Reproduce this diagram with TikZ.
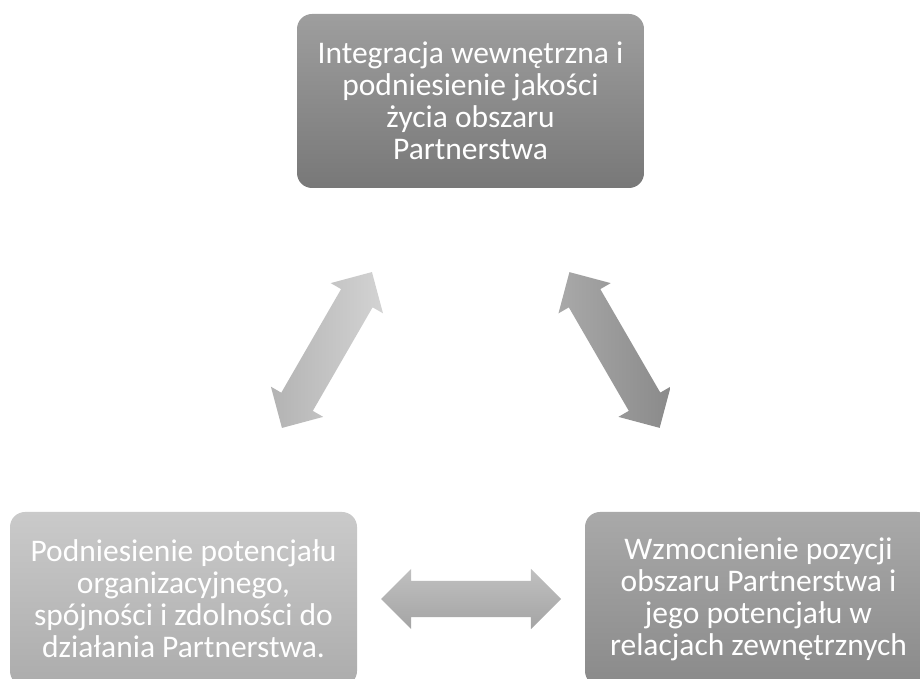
\documentclass[tikz,border=0pt]{standalone}
\usepackage{fontspec}
\setmainfont{Carlito}
\usetikzlibrary{shapes.arrows}
\definecolor{topA}{HTML}{9E9E9E}
\definecolor{topB}{HTML}{787878}
\definecolor{leftA}{HTML}{CACACA}
\definecolor{leftB}{HTML}{ACACAC}
\definecolor{rightA}{HTML}{A9A9A9}
\definecolor{rightB}{HTML}{8A8A8A}
\definecolor{arrLA}{HTML}{D3D3D3}
\definecolor{arrLB}{HTML}{B3B3B3}
\definecolor{arrRA}{HTML}{A9A9A9}
\definecolor{arrRB}{HTML}{8A8A8A}
\definecolor{arrHA}{HTML}{C0C0C0}
\definecolor{arrHB}{HTML}{A4A4A4}
\begin{document}
\begin{tikzpicture}[x=1pt, y=1pt,
  goal/.style={rounded corners=15pt, minimum width=347pt, minimum height=174pt, inner sep=0pt, align=center, text=white, font=\fontsize{31.5}{32}\selectfont},
  dbl/.style={double arrow, double arrow head extend=12pt, minimum height=180pt, inner xsep=0pt, inner ysep=18pt}]
\useasboundingbox (0,0) rectangle (920,679);
\clip (0,0) rectangle (920,679);
\node[goal, top color=topA, bottom color=topB] (g1) at (470.5,578) {Integracja wewnętrzna i\\podniesienie jakości\\życia obszaru\\Partnerstwa};
\node[goal, top color=leftA, bottom color=leftB] (g2) at (183.5,80) {Podniesienie potencjału\\organizacyjnego,\\spójności i zdolności do\\działania Partnerstwa.};
\node[goal, top color=rightA, bottom color=rightB] (g3) at (758.5,80) {Wzmocnienie pozycji\\obszaru Partnerstwa i\\jego potencjału w\\relacjach zewnętrznych};
\path (g1) -- node[dbl, sloped, left color=arrLB, right color=arrLA] (a12) {} (g2);
\path (g1) -- node[dbl, sloped, left color=arrRA, right color=arrRB] (a13) {} (g3);
\path (g2) -- node[dbl, top color=arrHA, bottom color=arrHB] (a23) {} (g3);
\end{tikzpicture}
\end{document}
